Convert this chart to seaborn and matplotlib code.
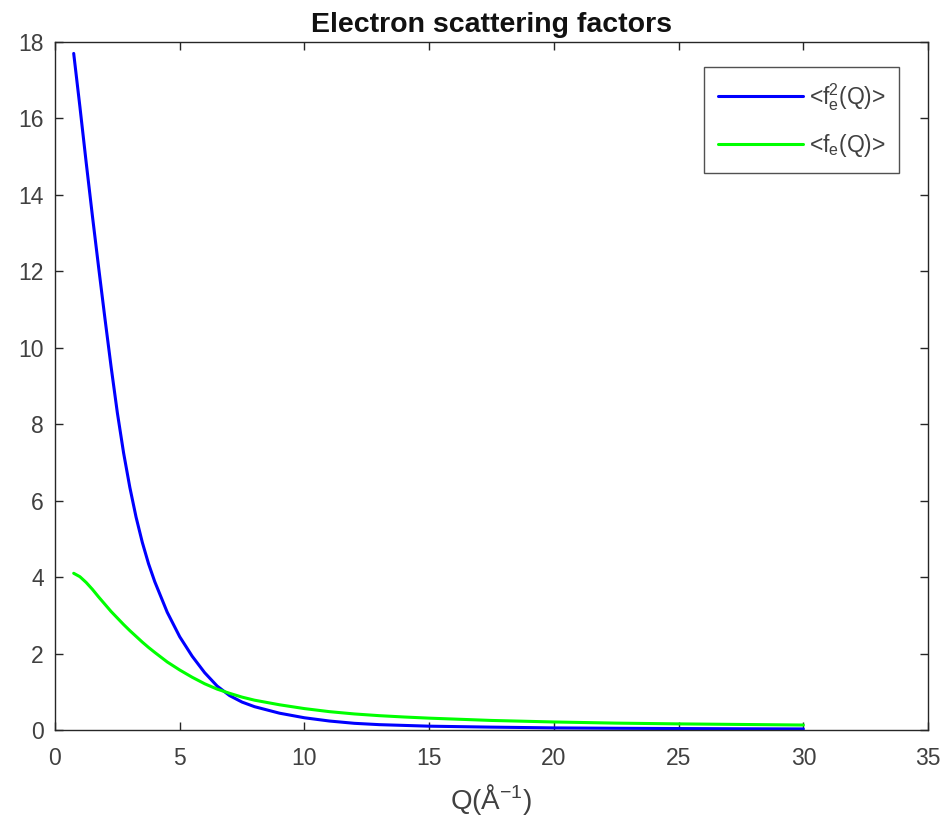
import numpy as np
import pandas as pd
import seaborn as sns
import matplotlib
matplotlib.use("Agg")
import matplotlib.pyplot as plt

# values
q = [0.75, 1.0, 1.25, 1.5, 1.75, 2.0, 2.25, 2.5, 2.75, 3.0, 3.25, 3.5, 3.75, 4.0,
     4.5, 5.0, 5.5, 6.0, 6.5, 7.0, 7.5, 8.0, 9.0, 10, 11, 12, 13, 14, 15,
     17.5, 20, 22.5, 25, 27.5, 30]
f2_mean = [17.7, 16.3, 14.85, 13.45, 12.1, 10.78, 9.5, 8.3, 7.25, 6.35, 5.57, 4.91, 4.35, 3.88,
           3.08, 2.44, 1.93, 1.5, 1.15, 0.9, 0.73, 0.61, 0.44, 0.32, 0.235, 0.175, 0.14, 0.12, 0.10,
           0.075, 0.055, 0.045, 0.038, 0.032, 0.028]
f_mean = [4.10, 4.01, 3.86, 3.68, 3.48, 3.29, 3.1, 2.93, 2.76, 2.6, 2.45, 2.3, 2.16, 2.03,
          1.78, 1.57, 1.38, 1.21, 1.07, 0.96, 0.86, 0.78, 0.66, 0.56, 0.48, 0.42, 0.375, 0.34, 0.31,
          0.25, 0.21, 0.18, 0.16, 0.145, 0.13]

xticks = [0, 5, 10, 15, 20, 25, 30, 35]
yticks = [0, 2, 4, 6, 8, 10, 12, 14, 16, 18]

df = pd.DataFrame({"Q": q, "f2": f2_mean, "f": f_mean})

sns.set_style("white")
plt.rcParams['font.family'] = ['Liberation Sans', 'DejaVu Sans']
plt.rcParams['mathtext.fontset'] = 'custom'
plt.rcParams['mathtext.rm'] = 'Liberation Sans'
plt.rcParams['mathtext.it'] = 'Liberation Sans'

fig = plt.figure(figsize=(9.48, 8.23), dpi=100)
ax = fig.add_axes([0.058, 0.113, 0.921, 0.836])

sns.lineplot(data=df, x="Q", y="f2", color=(0, 0, 1), lw=2.2, ax=ax,
             label=r"<f$_\mathrm{e}^\mathrm{2}$(Q)>")
sns.lineplot(data=df, x="Q", y="f", color=(0, 1, 0), lw=2.2, ax=ax,
             label=r"<f$_\mathrm{e}$(Q)>")

ax.set_xlim(0, 35)
ax.set_ylim(0, 18)
ax.set_xticks(xticks)
ax.set_yticks(yticks)
ax.tick_params(direction='in', top=True, right=True, bottom=True, left=True,
               length=6, width=1, labelsize=16.5, color='#262626',
               labelcolor='#404040')
ax.tick_params(axis='x', pad=12)
ax.tick_params(axis='y', pad=8)
for s in ax.spines.values():
    s.set_color('#262626')
    s.set_linewidth(1)

ax.set_title("Electron scattering factors", fontsize=20.5, fontweight='bold',
             pad=7, color='#111111')
ax.set_xlabel(r"Q(Å$^{\mathrm{-1}}$)", fontsize=20, color='#404040', labelpad=9)
ax.set_ylabel("")

leg = ax.legend(loc='upper right', bbox_to_anchor=(0.967, 0.963), fontsize=16.5,
                frameon=True, fancybox=False, handlelength=3.7, borderpad=0.6,
                labelspacing=0.85, handletextpad=0.25, borderaxespad=0)
leg.get_frame().set_edgecolor('#262626')
leg.get_frame().set_linewidth(1)
for t in leg.get_texts():
    t.set_color('#404040')

fig.savefig("out.png", dpi=100)
